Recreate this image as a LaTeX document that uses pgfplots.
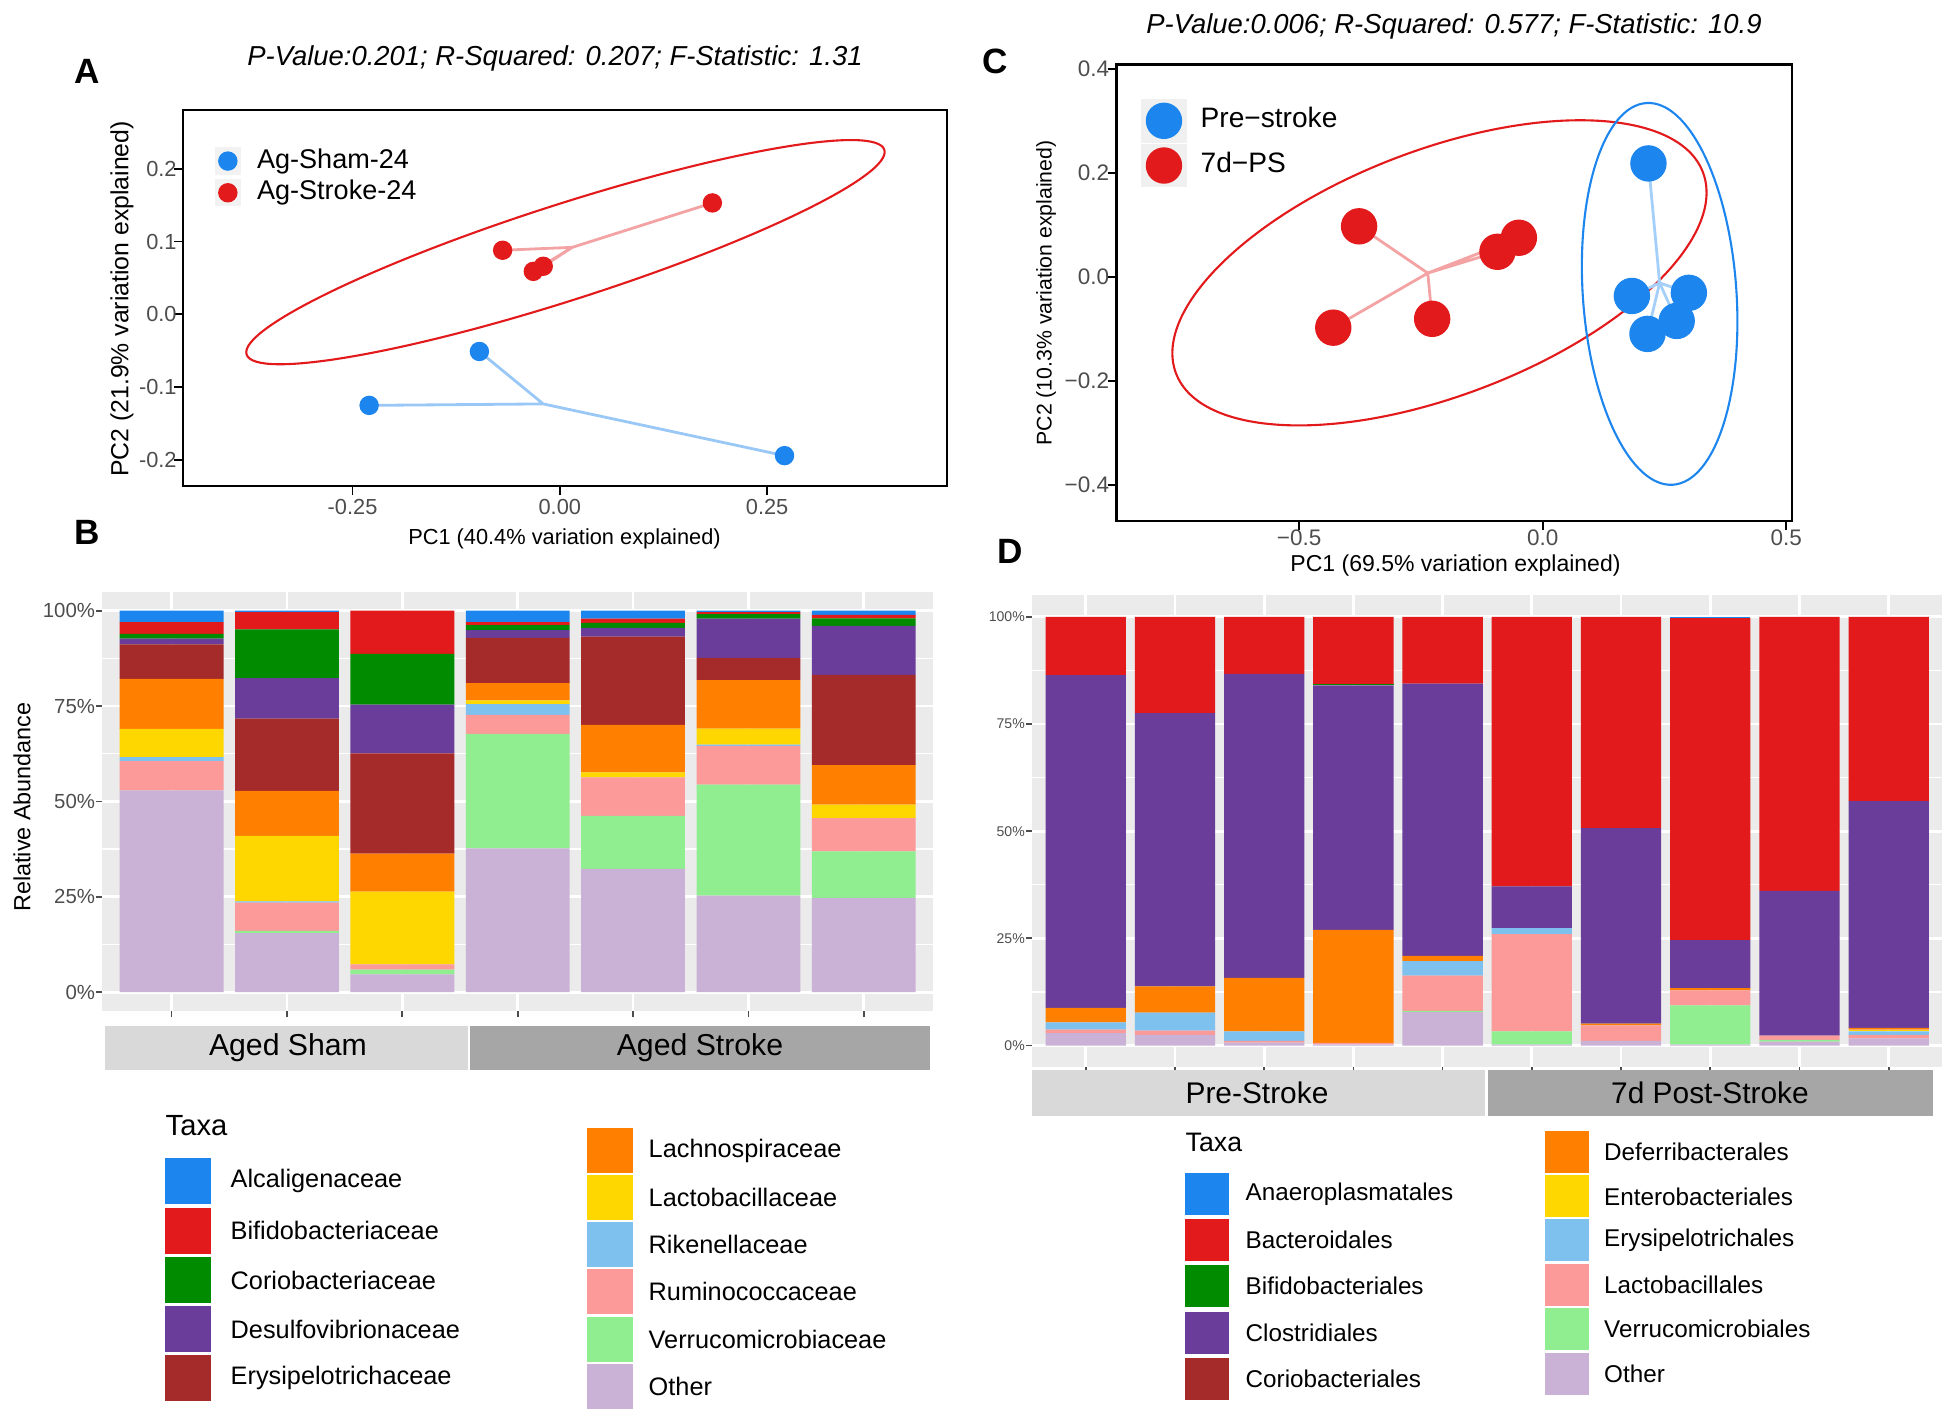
\documentclass[border=0pt]{standalone}
\usepackage{pgfplots}
\pgfplotsset{compat=1.18}
\usepackage{fontspec}
\setmainfont{Liberation Sans}

\definecolor{cBlue}{HTML}{1C86EE}
\definecolor{cRed}{HTML}{E31A1C}
\definecolor{cGreen}{HTML}{008B00}
\definecolor{cPurple}{HTML}{6A3D9A}
\definecolor{cBrown}{HTML}{A52A2A}
\definecolor{cOrange}{HTML}{FF7F00}
\definecolor{cGold}{HTML}{FFD700}
\definecolor{cSky}{HTML}{7EC0EE}
\definecolor{cPink}{HTML}{FB9A99}
\definecolor{cPaleGreen}{HTML}{90EE90}
\definecolor{cLilac}{HTML}{CAB2D6}
\definecolor{panelgrey}{HTML}{EBEBEB}
\definecolor{tickgrey}{HTML}{4D4D4D}
\definecolor{stripA}{HTML}{D9D9D9}
\definecolor{stripB}{HTML}{A6A6A6}

\pgfplotsset{
  pcoa/.style={
    scale only axis, anchor=south west,
    axis line style={black, line width=0.7pt},
    tick style={black, line width=0.5pt},
    tick align=outside, tick pos=left, major tick length=0.9mm,
    legend cell align=left,
  },
  barpanel/.style={
    scale only axis, anchor=south west,
    ybar stacked, bar width=0.9,
    axis background/.style={fill=panelgrey},
    axis line style={draw=none},
    ymin=-5, ymax=105,
    ytick={0,25,50,75,100},
    yticklabels={0\%,25\%,50\%,75\%,100\%},
    minor ytick={12.5,37.5,62.5,87.5},
    ymajorgrids, yminorgrids, xmajorgrids,
    major grid style={white, line width=0.8pt},
    minor grid style={white, line width=0.4pt},
    minor tick length=0pt,
    tick align=outside, tick pos=left, major tick length=0.6mm,
    tick style={tickgrey, line width=0.5pt},
    xticklabels={},
  },
}

\begin{document}
\begin{tikzpicture}
\path[use as bounding box] (0mm,0mm) rectangle (194.6mm,141.6mm);

% ---------------- A: PCoA aged ----------------
\begin{axis}[pcoa, at={(18.3mm,93.0mm)}, width=76.4mm, height=37.6mm,
  xmin=-0.4545, xmax=0.467, ymin=-0.2357, ymax=0.2806,
  xtick={-0.25,0,0.25}, xticklabels={-0.25,0.00,0.25},
  ytick={-0.2,-0.1,0,0.1,0.2}, yticklabels={-0.2,-0.1,0.0,0.1,0.2},
  ticklabel style={font=\fontsize{6.2}{7}\selectfont, text=tickgrey},
  xticklabel style={yshift=0.8mm}, yticklabel style={xshift=1.5mm},
  legend style={at={(0.0267,0.822)}, anchor=west, draw=none, fill=none,
    font=\fontsize{7.7}{8}\selectfont, row sep=0.43mm,
    nodes={inner sep=0pt, text height=1.9mm, text depth=0.5mm},
    /tikz/every odd column/.append style={column sep=1.6mm}},
  keyA/.style={legend image code/.code={
    \fill[black!5] (0mm,-1.3mm) rectangle (2.5mm,1.3mm);
    \draw[mark repeat=2,mark phase=2,##1] plot coordinates {(0mm,0mm) (1.25mm,0mm) (2.5mm,0mm)};}},
]
\draw[cRed, line width=0.6pt, rotate around={17.8:(axis cs:0.0068,0.0854)}]
  (axis cs:0.0068,0.0854) ellipse [x radius=33.49mm, y radius=4.79mm];
\addplot[cRed!40, line width=0.8pt, forget plot] coordinates {
  (0.015,0.092) (0.184,0.153) (0.015,0.092) (-0.069,0.088)
  (0.015,0.092) (-0.032,0.059) (0.015,0.092) (-0.020,0.066)};
\addplot[cBlue!45, line width=0.8pt, forget plot] coordinates {
  (-0.020,-0.123) (-0.097,-0.051) (-0.020,-0.123) (-0.230,-0.125)
  (-0.020,-0.123) (0.271,-0.194)};
\addplot[only marks, mark=*, mark size=0.9mm, color=cBlue, keyA] coordinates {
  (-0.097,-0.051) (-0.230,-0.125) (0.271,-0.194)};
\addlegendentry{Ag-Sham-24}
\addplot[only marks, mark=*, mark size=0.9mm, color=cRed, keyA] coordinates {
  (0.184,0.153) (-0.069,0.088) (-0.032,0.059) (-0.020,0.066)};
\addlegendentry{Ag-Stroke-24}
\end{axis}

% ---------------- C: PCoA pre/post ----------------
\begin{axis}[pcoa, at={(111.65mm,89.5mm)}, width=67.55mm, height=45.63mm,
  xmin=-0.875, xmax=0.5117, ymin=-0.470, ymax=0.408,
  xtick={-0.5,0,0.5}, xticklabels={−0.5,0.0,0.5},
  ytick={-0.4,-0.2,0,0.2,0.4}, yticklabels={−0.4,−0.2,0.0,0.2,0.4},
  ticklabel style={font=\fontsize{6.4}{7}\selectfont, text=tickgrey},
  xticklabel style={yshift=1.3mm}, yticklabel style={xshift=1.4mm},
  legend style={at={(0.020,0.828)}, anchor=west, draw=none, fill=none,
    font=\fontsize{8}{9}\selectfont, row sep=0.13mm,
    nodes={inner sep=0pt, text height=2mm, text depth=0.6mm},
    /tikz/every odd column/.append style={column sep=1.4mm}},
  keyC/.style={legend image code/.code={
    \fill[black!6] (0mm,-2.1mm) rectangle (4.4mm,2.1mm);
    \draw[mark repeat=2,mark phase=2,##1] plot coordinates {(0mm,0mm) (2.2mm,0mm) (4.4mm,0mm)};}},
]
\draw[cRed, line width=0.6pt, rotate around={20.9:(axis cs:-0.212,0.0075)}]
  (axis cs:-0.212,0.0075) ellipse [x radius=28.2mm, y radius=12.28mm];
\draw[cBlue, line width=0.6pt, rotate around={94.0:(axis cs:0.240,-0.033)}]
  (axis cs:0.240,-0.033) ellipse [x radius=19.13mm, y radius=7.68mm];
\addplot[cRed!40, line width=0.8pt, forget plot] coordinates {
  (-0.236,0.007) (-0.377,0.097) (-0.236,0.007) (-0.093,0.048)
  (-0.236,0.007) (-0.049,0.075) (-0.236,0.007) (-0.430,-0.098)
  (-0.236,0.007) (-0.227,-0.081)};
\addplot[cBlue!40, line width=0.8pt, forget plot] coordinates {
  (0.240,-0.012) (0.217,0.218) (0.240,-0.012) (0.183,-0.037)
  (0.240,-0.012) (0.300,-0.031) (0.240,-0.012) (0.275,-0.085)
  (0.240,-0.012) (0.215,-0.110)};
\addplot[only marks, mark=*, mark size=1.75mm, color=cBlue, keyC] coordinates {
  (0.217,0.218) (0.183,-0.037) (0.300,-0.031) (0.275,-0.085) (0.215,-0.110)};
\addlegendentry{Pre−stroke}
\addplot[only marks, mark=*, mark size=1.75mm, color=cRed, keyC] coordinates {
  (-0.377,0.097) (-0.093,0.048) (-0.049,0.075) (-0.430,-0.098) (-0.227,-0.081)};
\addlegendentry{7d−PS}
\end{axis}

% ---------------- B: family composition ----------------
\begin{axis}[barpanel, at={(10.24mm,40.47mm)}, width=83.06mm, height=41.97mm,
  xmin=0.4, xmax=7.6, xtick={1,...,7},
  yticklabel style={font=\fontsize{5.8}{6}\selectfont, text=tickgrey, xshift=1.1mm},
]
% Other
\addplot[fill=cLilac, draw=none] coordinates {(1,52.9) (2,15.5) (3,4.7) (4,37.7) (5,32.3) (6,25.3) (7,24.7)};
% Verrucomicrobiaceae
\addplot[fill=cPaleGreen, draw=none] coordinates {(1,0) (2,0.6) (3,1.2) (4,30.0) (5,13.9) (6,29.1) (7,12.2)};
% Ruminococcaceae
\addplot[fill=cPink, draw=none] coordinates {(1,7.7) (2,7.4) (3,1.4) (4,5.0) (5,10.1) (6,10.2) (7,8.7)};
% Rikenellaceae
\addplot[fill=cSky, draw=none] coordinates {(1,1.0) (2,0.3) (3,0) (4,2.8) (5,0) (6,0.3) (7,0)};
% Lactobacillaceae
\addplot[fill=cGold, draw=none] coordinates {(1,7.4) (2,17.2) (3,19.1) (4,1.0) (5,1.3) (6,4.2) (7,3.6)};
% Lachnospiraceae
\addplot[fill=cOrange, draw=none] coordinates {(1,13.1) (2,11.8) (3,9.9) (4,4.5) (5,12.5) (6,12.7) (7,10.3)};
% Erysipelotrichaceae
\addplot[fill=cBrown, draw=none] coordinates {(1,9.1) (2,18.9) (3,26.3) (4,11.9) (5,23.1) (6,5.8) (7,23.7)};
% Desulfovibrionaceae
\addplot[fill=cPurple, draw=none] coordinates {(1,1.5) (2,10.6) (3,12.8) (4,2.0) (5,2.3) (6,10.3) (7,12.8)};
% Coriobacteriaceae
\addplot[fill=cGreen, draw=none] coordinates {(1,1.2) (2,12.8) (3,13.3) (4,1.3) (5,1.3) (6,1.2) (7,2.0)};
% Bifidobacteriaceae
\addplot[fill=cRed, draw=none] coordinates {(1,3.1) (2,4.5) (3,11.3) (4,0.8) (5,1.1) (6,0.5) (7,0.9)};
% Alcaligenaceae
\addplot[fill=cBlue, draw=none] coordinates {(1,3.0) (2,0.4) (3,0) (4,3.0) (5,2.1) (6,0.4) (7,1.1)};
\end{axis}

% ---------------- D: order composition ----------------
\begin{axis}[barpanel, at={(103.22mm,34.9mm)}, width=91.0mm, height=47.17mm,
  xmin=0.4, xmax=10.6, xtick={1,...,10},
  yticklabel style={font=\fontsize{4}{5}\selectfont, text=tickgrey, xshift=1.1mm},
]
% Other
\addplot[fill=cLilac, draw=none] coordinates {(1,2.9) (2,2.5) (3,0.7) (4,0.3) (5,7.8) (6,0.2) (7,1.1) (8,0.2) (9,0.9) (10,1.7)};
% Verrucomicrobiales
\addplot[fill=cPaleGreen, draw=none] coordinates {(1,0) (2,0) (3,0) (4,0) (5,0.3) (6,3.1) (7,0) (8,9.2) (9,0.4) (10,0)};
% Lactobacillales
\addplot[fill=cPink, draw=none] coordinates {(1,0.8) (2,1.0) (3,0.4) (4,0.3) (5,8.2) (6,22.7) (7,3.6) (8,3.5) (9,1.0) (10,0.8)};
% Erysipelotrichales
\addplot[fill=cSky, draw=none] coordinates {(1,1.7) (2,4.2) (3,2.2) (4,0) (5,3.4) (6,1.4) (7,0) (8,0) (9,0) (10,0.8)};
% Enterobacteriales
\addplot[fill=cGold, draw=none] coordinates {(1,0) (2,0) (3,0) (4,0) (5,0) (6,0) (7,0) (8,0) (9,0) (10,0.4)};
% Deferribacterales
\addplot[fill=cOrange, draw=none] coordinates {(1,3.4) (2,6.1) (3,12.5) (4,26.4) (5,1.2) (6,0) (7,0.4) (8,0.5) (9,0) (10,0.4)};
% Coriobacteriales
\addplot[fill=cBrown, draw=none] coordinates {(1,0) (2,0) (3,0) (4,0) (5,0) (6,0) (7,0) (8,0) (9,0) (10,0)};
% Clostridiales
\addplot[fill=cPurple, draw=none] coordinates {(1,77.6) (2,63.7) (3,70.9) (4,57.0) (5,63.5) (6,9.7) (7,45.6) (8,11.2) (9,33.8) (10,52.9)};
% Bifidobacteriales
\addplot[fill=cGreen, draw=none] coordinates {(1,0) (2,0) (3,0) (4,0.3) (5,0) (6,0) (7,0) (8,0) (9,0) (10,0)};
% Bacteroidales
\addplot[fill=cRed, draw=none] coordinates {(1,13.6) (2,22.5) (3,13.3) (4,15.7) (5,15.6) (6,62.9) (7,49.3) (8,75.1) (9,63.9) (10,43.0)};
% Anaeroplasmatales
\addplot[fill=cBlue, draw=none] coordinates {(1,0) (2,0) (3,0) (4,0) (5,0) (6,0) (7,0) (8,0.3) (9,0) (10,0)};
\end{axis}

\begin{scope}[x=1mm,y=1mm]
% ---------------- titles, labels, letters ----------------
\node[font=\fontsize{7.8}{9}\selectfont\itshape] at (55.5,135.8) {P-Value:0.201; R-Squared: 0.207; F-Statistic: 1.31};
\node[font=\fontsize{7.8}{9}\selectfont\itshape] at (145.4,139.0) {P-Value:0.006; R-Squared: 0.577; F-Statistic: 10.9};
\node[font=\fontsize{6.2}{7}\selectfont] at (56.45,87.7) {PC1 (40.4\% variation explained)};
\node[font=\fontsize{7.05}{8}\selectfont, rotate=90] at (12.2,111.7) {PC2 (21.9\% variation explained)};
\node[font=\fontsize{6.55}{7}\selectfont] at (145.55,85.0) {PC1 (69.5\% variation explained)};
\node[font=\fontsize{6.05}{7}\selectfont, rotate=90] at (104.6,112.3) {PC2 (10.3\% variation explained)};
\node[font=\fontsize{6.66}{7}\selectfont, rotate=90] at (2.2,60.9) {Relative Abundance};

\node[font=\bfseries\fontsize{10}{12}\selectfont] at (8.7,134.5) {A};
\node[font=\bfseries\fontsize{10}{12}\selectfont] at (8.7,88.4) {B};
\node[font=\bfseries\fontsize{10}{12}\selectfont] at (99.5,135.5) {C};
\node[font=\bfseries\fontsize{10}{12}\selectfont] at (101.0,86.5) {D};

% ---------------- facet strips ----------------
\fill[stripA] (10.5,34.6) rectangle (46.8,39.0);
\fill[stripB] (47.0,34.6) rectangle (93.0,39.0);
\node[font=\fontsize{8.6}{9}\selectfont] at (28.8,36.8) {Aged Sham};
\node[font=\fontsize{8.6}{9}\selectfont] at (70.0,36.8) {Aged Stroke};
\fill[stripA] (103.2,30.04) rectangle (148.5,34.6);
\fill[stripB] (148.8,30.04) rectangle (193.3,34.6);
\node[font=\fontsize{8.5}{9}\selectfont] at (125.7,32.3) {Pre-Stroke};
\node[font=\fontsize{8.5}{9}\selectfont] at (171.0,32.3) {7d Post-Stroke};

% ---------------- legends of B and D ----------------
\node[anchor=west, inner sep=0pt, font=\fontsize{8.3}{9}\selectfont] at (16.5,29.0) {Taxa};
\foreach \y/\c/\t in {23.5/cBlue/Alcaligenaceae, 18.55/cRed/Bifidobacteriaceae,
    13.6/cGreen/Coriobacteriaceae, 8.7/cPurple/Desulfovibrionaceae, 3.8/cBrown/Erysipelotrichaceae} {
  \fill[\c] (16.5,\y-2.3) rectangle (21.1,\y+2.3);
  \node[anchor=west, inner sep=0pt, font=\fontsize{7.2}{8}\selectfont] at (23.0,\y) {\t};
}
\foreach \y/\c/\t in {26.55/cOrange/Lachnospiraceae, 21.84/cGold/Lactobacillaceae,
    17.12/cSky/Rikenellaceae, 12.41/cPink/Ruminococcaceae, 7.69/cPaleGreen/Verrucomicrobiaceae, 2.98/cLilac/Other} {
  \fill[\c] (58.7,\y-2.25) rectangle (63.3,\y+2.25);
  \node[anchor=west, inner sep=0pt, font=\fontsize{7.2}{8}\selectfont] at (64.8,\y) {\t};
}

\node[anchor=west, inner sep=0pt, font=\fontsize{7.6}{9}\selectfont] at (118.5,27.4) {Taxa};
\foreach \y/\c/\t in {22.2/cBlue/Anaeroplasmatales, 17.6/cRed/Bacteroidales,
    13.0/cGreen/Bifidobacteriales, 8.3/cPurple/Clostridiales, 3.7/cBrown/Coriobacteriales} {
  \fill[\c] (118.5,\y-2.1) rectangle (122.9,\y+2.1);
  \node[anchor=west, inner sep=0pt, font=\fontsize{6.9}{8}\selectfont] at (124.5,\y) {\t};
}
\foreach \y/\c/\t in {26.43/cOrange/Deferribacterales, 21.96/cGold/Enterobacteriales,
    17.62/cSky/Erysipelotrichales, 13.15/cPink/Lactobacillales, 8.68/cPaleGreen/Verrucomicrobiales, 4.21/cLilac/Other} {
  \fill[\c] (154.5,\y-2.1) rectangle (158.9,\y+2.1);
  \node[anchor=west, inner sep=0pt, font=\fontsize{6.9}{8}\selectfont] at (160.35,\y) {\t};
}
\end{scope}
\end{tikzpicture}
\end{document}
